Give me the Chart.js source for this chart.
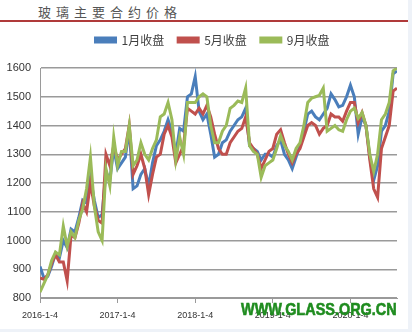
<!DOCTYPE html>
<html>
<head>
<meta charset="utf-8">
<script src="https://cdn.jsdelivr.net/npm/chart.js@4/dist/chart.umd.min.js"></script>
<style>
  html, body { margin: 0; padding: 0; background: #eef2f8; }
  #wrap { position: relative; width: 412px; height: 332px; overflow: hidden; }
  #paper { position: absolute; left: 0; top: 0; width: 408px; height: 329px; background: #ffffff; }
  #chartBox { position: absolute; left: 0; top: 0; width: 412px; height: 332px; }
  #title { position: absolute; left: 38px; top: 2px; font: 13px "Noto Sans CJK SC", sans-serif; color: #555; letter-spacing: 5px; }
  #rule { position: absolute; left: 0; top: 20px; width: 408px; height: 2px; background: #b03a3a; }
  #mark { position: absolute; left: 241px; top: 300px; font: bold 17px "Liberation Sans", Arial, sans-serif; color: #1f8c1f; -webkit-text-stroke: 0.6px #1f8c1f; transform: scaleX(0.85); transform-origin: 0 0; white-space: nowrap; }
</style>
</head>
<body>
<div id="wrap">
  <div id="paper"></div>
  <div id="title">玻璃主要合约价格</div>
  <div id="rule"></div>
  <div id="chartBox"><canvas id="c" width="412" height="332"></canvas></div>
  <div id="mark">WWW.GLASS.ORG.CN</div>
</div>
<script>
// Tick labels (one per 20 sampled points, roughly one year)
const tickLabels = ["2016-1-4", "2017-1-4", "2018-1-4", "2019-1-4", "2020-1-4"];
const seriesNames = ["1月收盘", "5月收盘", "9月收盘"];

const jan = [910,870,875,910,955,940,1000,975,1040,1030,1080,1140,1130,1220,1140,1080,1090,1240,1210,1320,
             1250,1270,1290,1390,1180,1190,1230,1250,1190,1270,1330,1350,1380,1420,1380,1300,1390,1380,1500,1510,
             1570,1450,1420,1440,1370,1290,1300,1340,1350,1380,1400,1420,1430,1460,1330,1320,1310,1280,1300,1300,
             1290,1330,1350,1300,1280,1250,1290,1330,1380,1440,1450,1430,1420,1440,1460,1510,1490,1465,1470,1500,
             1540,1500,1370,1430,1400,1290,1210,1260,1380,1400,1450,1580,1590];
const may = [870,865,880,920,950,925,925,860,1020,1010,1060,1130,1100,1200,1120,1070,1060,1300,1260,1330,
             1280,1300,1320,1400,1230,1260,1300,1250,1160,1230,1290,1300,1370,1400,1360,1270,1300,1330,1460,1450,
             1440,1460,1440,1470,1430,1370,1320,1300,1300,1340,1360,1380,1390,1430,1340,1320,1300,1250,1280,1310,
             1320,1370,1385,1340,1300,1270,1300,1320,1360,1400,1410,1400,1370,1390,1400,1440,1430,1430,1415,1450,
             1480,1480,1410,1445,1400,1280,1180,1150,1320,1360,1400,1520,1530];
const sep = [820,850,880,930,960,950,1050,980,1030,1010,1070,1110,1180,1290,1120,1030,1000,1250,1190,1360,
             1260,1310,1310,1400,1260,1280,1340,1300,1280,1320,1350,1430,1440,1480,1420,1280,1360,1300,1480,1480,
             1480,1500,1510,1500,1400,1340,1340,1380,1400,1460,1470,1485,1480,1530,1330,1310,1300,1220,1260,1270,
             1280,1320,1365,1330,1310,1280,1320,1340,1400,1480,1495,1500,1505,1530,1380,1390,1400,1385,1380,1420,
             1450,1460,1425,1445,1400,1300,1240,1300,1420,1440,1480,1590,1600];

const colors = ["#4a7ebb", "#c0504d", "#9bbb59"];
const values = [jan, may, sep];

const datasets = values.map((arr, k) => ({
  label: seriesNames[k],
  data: arr.map((v, i) => ({ x: i, y: v })),
  borderColor: colors[k],
  backgroundColor: colors[k],
  borderWidth: 3,
  pointRadius: 0,
  tension: 0,
  order: 2 - k
}));

const legendTweak = {
  id: 'legendTweak',
  beforeInit(chart) {
    const fit = chart.legend.fit;
    chart.legend.fit = function () { fit.bind(chart.legend)(); this.height += 12; };
  },
  afterLayout(chart) {
    chart.legend.left += 14;
    chart.legend.right += 14;
  }
};

new Chart(document.getElementById('c'), {
  type: 'line',
  data: { datasets },
  plugins: [legendTweak],
  options: {
    responsive: false,
    animation: false,
    layout: { padding: { top: 20, left: 0, right: 15, bottom: 0 } },
    plugins: {
      legend: {
        position: 'top',
        labels: {
          boxWidth: 20, boxHeight: 4, padding: 14,
          color: '#404040',
          sort: (a, b) => a.datasetIndex - b.datasetIndex,
          font: { size: 12, family: '"Noto Sans CJK SC", sans-serif' }
        }
      },
      tooltip: { enabled: false }
    },
    scales: {
      x: {
        type: 'linear', min: 0, max: 92,
        afterFit(s) { s.height = 34; },
        grid: { drawOnChartArea: false, drawTicks: true, tickLength: 5, color: '#9a9a9a' },
        border: { display: true, color: '#9a9a9a' },
        ticks: {
          stepSize: 20, includeBounds: false, padding: 7, maxRotation: 0, autoSkip: false,
          color: '#333',
          font: { size: 9, family: '"Liberation Sans", Arial, sans-serif' },
          callback: (v) => (v % 20 === 0 ? tickLabels[v / 20] : '')
        }
      },
      y: {
        min: 800, max: 1600,
        afterFit(s) { s.width = 40; },
        grid: { color: '#9a9a9a', lineWidth: 1.5, drawTicks: false },
        border: { display: true, color: '#9a9a9a' },
        ticks: {
          stepSize: 100, padding: 9, color: '#333',
          font: { size: 11, family: '"Liberation Sans", Arial, sans-serif' },
          callback: (v) => String(v)
        }
      }
    }
  }
});
</script>
</body>
</html>
